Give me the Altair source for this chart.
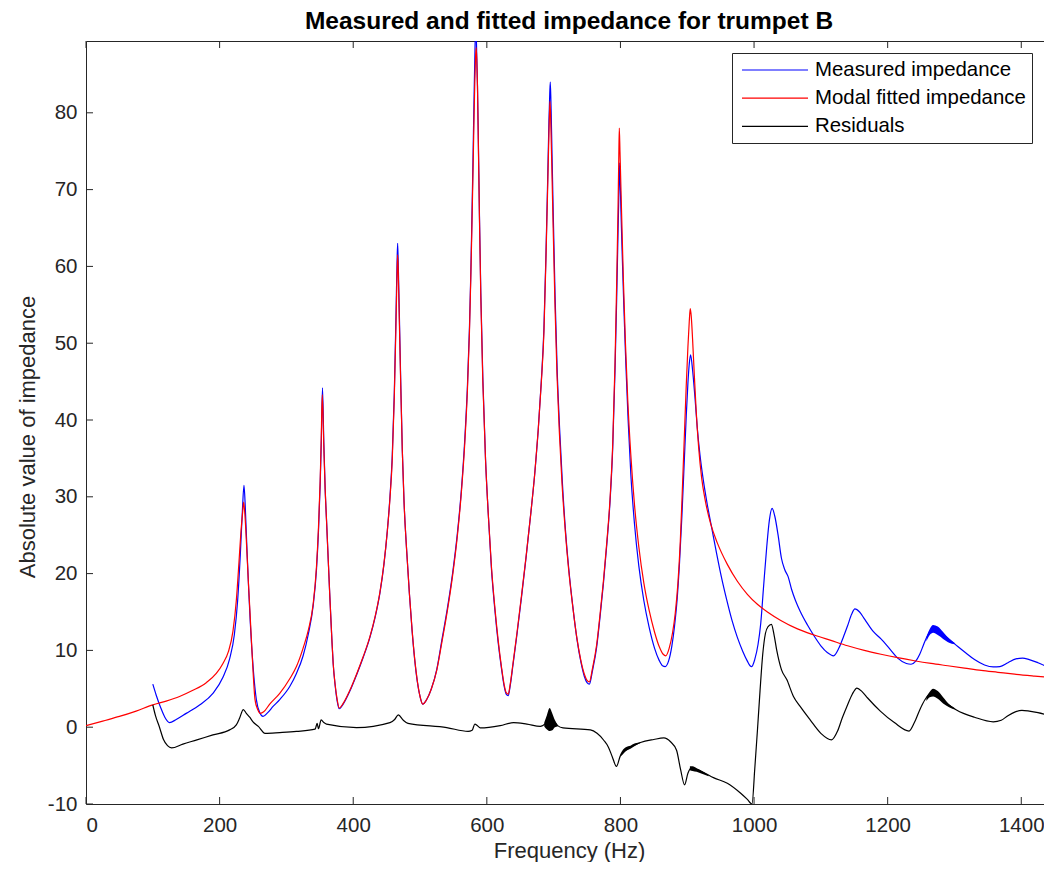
import altair as alt
import pandas as pd

FONT = "Liberation Sans"
SERIES = ["Measured impedance", "Modal fitted impedance", "Residuals"]
COLORS = ["#0000ff", "#ff0000", "#000000"]

X_TICKS = [0, 200, 400, 600, 800, 1000, 1200, 1400]
Y_TICKS = [-10, 0, 10, 20, 30, 40, 50, 60, 70, 80]

# (frequency Hz, |Z|)
MEASURED = [
    (100, 5.6), (105, 4.2), (112, 2.5), (118, 1.3), (125, 0.6), (135, 1.0), (150, 1.8), (170, 2.9),
    (190, 4.4), (205, 6.5), (215, 8.9), (222, 12.0), (227, 16.5), (231, 22.5), (234, 28.0),
    (236.5, 31.5), (238.5, 28.5), (241, 23.0), (243.5, 18.0), (246, 13.5), (250, 8.0), (255, 3.6),
    (260, 1.9), (265, 1.4), (272, 1.9), (280, 2.7), (290, 3.6), (305, 5.3), (315, 7.0), (325, 9.3),
    (333, 12.2), (340, 15.8), (345, 20.5), (348, 25.5), (350.5, 31.5), (352.3, 37.5), (354, 44.2),
    (356, 37.0), (358, 31.0), (360, 27.0), (363, 21.0), (365, 17.0), (368, 11.5), (370, 8.3),
    (373, 5.4), (376, 3.4), (379, 2.4), (385, 3.0), (395, 4.7), (405, 6.8), (415, 9.1), (425, 11.7),
    (433, 14.4), (440, 17.5), (446, 21.2), (451, 25.5), (455, 30.0), (458.5, 35.5), (461.5, 43.5),
    (464, 53.5), (465.6, 60.5), (466.5, 63.0), (467.5, 60.0), (469, 54.0), (471, 45.5), (473.5, 36.0),
    (476, 29.5), (480, 23.0), (484, 17.5), (488, 12.7), (492, 8.8), (496, 5.9), (500, 4.0), (504, 3.0),
    (510, 3.6), (517, 5.0), (525, 7.5), (533, 11.5), (541, 15.5), (549, 20.2), (556, 25.3), (562, 31.0),
    (567, 37.5), (571, 44.5), (574, 52.0), (576, 59.0), (577.5, 65.5), (579, 72.5), (580, 77.5),
    (581, 82.5), (582, 87.0), (583, 90.5), (584, 90.5), (585, 87.0), (586, 83.5), (587.3, 76.5),
    (589, 66.5), (591, 56.5), (594, 45.5), (598, 35.0), (602, 28.0), (607, 20.5), (612, 15.3),
    (617, 11.0), (622, 7.6), (626, 5.3), (629, 4.3), (632, 4.1), (635, 5.4), (639, 8.0), (645, 12.0),
    (652, 17.0), (659, 22.3), (666, 28.0), (672, 33.3), (677, 38.8), (681.5, 45.0), (685.5, 52.0),
    (688.5, 61.5), (691, 71.0), (693, 79.0), (694.2, 82.5), (695, 84.0), (696.2, 80.5), (697.6, 74.5),
    (699.5, 66.5), (702.2, 56.0), (705.3, 46.5), (709, 38.8), (713, 32.0), (718, 25.3), (723, 20.3),
    (729, 15.5), (735, 11.4), (741, 8.4), (746, 6.6), (750, 5.8), (753.5, 5.6), (758, 7.3),
    (764.5, 10.5), (769.5, 14.4), (774.5, 18.7), (779.5, 23.7), (784.5, 29.5), (788.5, 36.5),
    (791.9, 46.5), (794.3, 55.5), (796.3, 64.0), (797.8, 70.0), (798.8, 73.5), (799.8, 70.5),
    (801, 66.5), (802.5, 62.0), (805, 55.0), (808, 47.5), (811.5, 40.0), (815.5, 33.0), (821, 26.5),
    (827.5, 21.0), (835, 16.5), (843, 13.0), (851, 10.3), (858, 8.7), (863, 8.0), (867, 7.9),
    (872, 8.6), (877, 10.6), (881, 13.2), (885, 16.8), (888.5, 21.5), (892, 27.5), (895.5, 34.5),
    (898.5, 40.5), (901, 44.8), (903, 47.3), (905, 48.5), (908, 46.5), (911.5, 43.0), (915, 39.0),
    (919, 35.5), (924, 32.2), (930, 29.0), (937, 25.8), (944, 22.6), (951, 19.6), (959, 16.6),
    (967, 13.9), (975, 11.7), (983, 9.9), (990, 8.6), (994, 8.0), (996.5, 7.9), (1001, 8.8),
    (1006, 10.8), (1010, 13.5), (1014, 18.0), (1019, 23.5), (1023, 27.0), (1027, 28.5), (1031, 27.5),
    (1036, 25.0), (1041, 22.0), (1046, 20.5), (1051, 19.6), (1056, 18.0), (1062, 16.5), (1069, 15.1),
    (1080, 13.3), (1089, 12.0), (1100, 10.6), (1110, 9.7), (1119, 9.3), (1127, 10.3), (1134, 11.8),
    (1140, 13.2), (1146, 14.7), (1151, 15.4), (1158, 15.0), (1166, 14.0), (1178, 12.5), (1190, 11.5),
    (1204, 10.1), (1215, 9.0), (1228, 8.3), (1235, 8.2), (1242, 8.6), (1248, 9.5), (1254, 10.8),
    (1260, 12.0), (1266, 12.8), (1272, 12.9), (1280, 12.3), (1293, 11.4), (1305, 10.5), (1318, 9.6),
    (1330, 8.8), (1345, 8.1), (1358, 7.85), (1368, 7.9), (1380, 8.4), (1392, 8.9), (1402, 9.0),
    (1412, 8.8), (1425, 8.4), (1436, 8.0), (1446, 7.8),
]

FITTED = [
    (0, 0.2), (25, 0.8), (50, 1.4), (75, 2.1), (100, 2.9), (120, 3.4), (140, 4.0), (160, 4.8),
    (180, 5.8), (195, 7.0), (205, 8.3), (213, 9.8), (220, 12.5), (225, 16.5), (229, 21.5),
    (232, 25.5), (234.5, 28.0), (236, 29.3), (238, 27.5), (240.5, 23.5), (243, 19.0), (245.5, 14.9),
    (249, 9.0), (253, 3.6), (257, 2.3), (261, 1.8), (266, 2.0), (275, 3.0), (290, 4.4), (305, 6.3),
    (315, 7.9), (325, 10.3), (333, 12.7), (340, 16.0), (345, 20.9), (348, 26.0), (350.5, 32.0),
    (352, 37.0), (353.7, 43.3), (356, 36.5), (358, 31.0), (360, 27.0), (363, 21.0), (365, 17.0),
    (368, 11.5), (370, 8.3), (373, 5.5), (376, 3.6), (379, 2.5), (385, 3.1), (395, 4.8), (405, 6.9),
    (415, 9.2), (425, 11.8), (433, 14.5), (440, 17.6), (446, 21.3), (451, 25.5), (455, 29.8),
    (458.5, 35.0), (461.5, 43.0), (464, 52.5), (465.6, 59.0), (466.5, 61.5), (467.5, 59.0),
    (469, 53.0), (471, 45.0), (473.5, 36.0), (476, 29.5), (480, 23.0), (484, 17.5), (488, 12.8),
    (492, 8.9), (496, 6.0), (500, 4.0), (504, 3.0), (510, 3.6), (517, 5.0), (525, 7.4), (533, 11.2),
    (541, 15.2), (549, 19.9), (556, 25.0), (562, 30.7), (567, 37.0), (571, 44.0), (574, 51.5),
    (576, 58.5), (577.5, 64.5), (579, 71.0), (580, 75.5), (581, 80.0), (582, 84.0), (583, 87.0),
    (584, 88.5), (585, 87.0), (586, 83.5), (587.3, 76.0), (589, 66.0), (591, 56.0), (594, 45.0),
    (598, 35.0), (602, 28.0), (607, 20.8), (612, 15.6), (617, 11.3), (622, 7.8), (626, 5.5), (629, 4.5),
    (632, 4.3), (635, 5.6), (639, 8.2), (645, 12.2), (652, 17.2), (659, 22.4), (666, 28.0), (672, 33.3),
    (677, 38.8), (681.5, 44.8), (685.5, 51.5), (688.5, 61.0), (691, 70.0), (693, 77.5), (694, 80.5),
    (694.6, 81.5), (695.8, 78.5), (697.3, 73.0), (699.3, 65.0), (702, 55.0), (705, 46.0),
    (708.5, 38.5), (712.5, 31.8), (717.5, 25.5), (722.5, 20.5), (728.5, 15.8), (734.5, 11.8),
    (740.5, 8.8), (746, 6.9), (750, 6.1), (753.5, 5.9), (758, 7.6), (764.5, 10.8), (769.5, 14.7),
    (774.5, 19.0), (779.5, 24.0), (784.5, 29.8), (788.5, 37.0), (791.9, 47.5), (794.3, 57.5),
    (796.3, 67.0), (797.5, 74.0), (798.3, 78.0), (799.3, 75.0), (800.5, 71.0), (802, 66.0),
    (804.5, 58.0), (807.5, 50.0), (811, 42.5), (815.5, 35.5), (821, 29.0), (827.5, 23.5), (835, 18.8),
    (843, 15.2), (851, 12.4), (858, 10.5), (864, 9.5), (868, 9.3), (873, 10.3), (878, 12.3),
    (882, 14.8), (886, 18.7), (889.5, 24.0), (892.5, 30.5), (895.5, 37.5), (898.5, 44.5), (901, 49.5),
    (903, 52.8), (904.5, 54.5), (906, 53.5), (908, 50.5), (910.5, 46.0), (913.5, 41.0), (917, 36.5),
    (921.5, 32.5), (927, 29.5), (935, 26.5), (945, 24.0), (960, 21.2), (975, 19.0), (990, 17.3),
    (1005, 16.0), (1020, 15.0), (1040, 13.9), (1065, 12.8), (1090, 12.0), (1115, 11.3), (1140, 10.6),
    (1165, 10.0), (1190, 9.5), (1215, 9.05), (1240, 8.65), (1265, 8.3), (1290, 8.0), (1315, 7.7),
    (1340, 7.4), (1365, 7.15), (1390, 6.9), (1420, 6.65), (1446, 6.45),
]

RESIDUALS = [
    (100, 2.9), (104, 1.5), (110, 0.0), (116, -1.6), (122, -2.4), (128, -2.7), (145, -2.2),
    (166, -1.65), (190, -1.0), (215, -0.35), (225, 0.3), (230, 1.2), (235.5, 2.3), (240, 1.8),
    (245, 1.3), (250, 0.7), (258, 0.1), (268, -0.8), (290, -0.7), (315, -0.55), (343, -0.25),
    (346, 0.5), (348, -0.2), (352, 0.95), (356, 0.6), (360, 0.4), (405, -0.05), (455, 0.6), (462, 1.0),
    (467.5, 1.6), (475, 0.9), (482, 0.5), (540, -0.05), (572, -0.55), (578, -0.4), (582, 0.4),
    (586, 0.2), (590, -0.1), (620, 0.2), (640, 0.6), (660, 0.4), (680, 0.1), (688, 0.5), (694, 1.1),
    (700, 0.8), (706, 0.2), (714, -0.1), (755, -0.35), (765, -0.8), (775, -1.7), (782, -2.6),
    (788, -3.9), (794, -5.1), (800, -3.7), (810, -2.9), (830, -2.0), (850, -1.6), (865, -1.4),
    (875, -1.9), (884, -3.0), (890, -5.5), (896, -7.5), (901, -6.0), (906, -5.3), (920, -5.7),
    (940, -6.6), (960, -7.3), (980, -8.6), (990, -9.4), (997, -10.0), (1001, -5.5), (1005, -0.5),
    (1009, 4.8), (1013, 9.5), (1017, 12.2), (1021, 13.1), (1026, 13.4), (1030, 12.0), (1034, 10.0),
    (1041, 7.5), (1049, 6.2), (1059, 4.0), (1069, 2.7), (1084, 0.95), (1100, -0.8), (1116, -1.65),
    (1125, -0.5), (1132, 1.2), (1139, 2.7), (1147, 4.3), (1154, 5.1), (1162, 4.6), (1170, 3.8),
    (1189, 2.1), (1210, 0.6), (1232, -0.5), (1240, 0.6), (1248, 2.25), (1256, 3.6), (1262, 4.3),
    (1268.5, 4.6), (1278, 4.0), (1290, 3.0), (1303, 2.25), (1330, 1.3), (1358, 0.7), (1370, 0.9),
    (1380, 1.5), (1391, 2.0), (1401, 2.2), (1412, 2.1), (1425, 1.9), (1446, 1.4),
]

# thick, fast-oscillating stretches of the measured data: (frequency, low, high)
RESIDUAL_BANDS = {
    "r1": [(686, 0.1, 0.6), (690, -0.3, 1.6), (694, -0.5, 2.5), (698, -0.4, 1.8), (702, 0.0, 0.9), (706, 0.1, 0.3)],
    "r2": [(800, -3.8, -3.5), (804, -3.5, -2.9), (808, -3.1, -2.6), (815, -2.8, -2.4), (822, -2.4, -2.1),
           (830, -2.05, -1.95)],
    "r3": [(904, -5.6, -5.1), (908, -5.7, -5.1), (914, -5.8, -5.35), (922, -6.05, -5.7), (932, -6.4, -6.25)],
    "r4": [(1258, 3.4, 3.9), (1263, 3.9, 4.6), (1268, 4.0, 5.0), (1275, 3.7, 4.7), (1283, 3.1, 3.9),
           (1292, 2.6, 3.0), (1300, 2.3, 2.5)],
}
MEASURED_BANDS = {
    "m1": [(1258, 11.2, 11.7), (1263, 12.0, 12.8), (1268, 12.3, 13.3), (1275, 12.0, 13.1),
           (1283, 11.5, 12.4), (1292, 11.0, 11.5), (1300, 10.8, 11.0)],
}

W, H = 966, 763
X_DOMAIN = [0, 1446]
Y_DOMAIN = [-10, 89.35]
AX = "#262626"

xscale = alt.Scale(domain=X_DOMAIN, nice=False, zero=False)
yscale = alt.Scale(domain=Y_DOMAIN, nice=False, zero=False)
x_axis = alt.Axis(values=X_TICKS, title="Frequency (Hz)", ticks=False, domain=False, grid=False,
                  labelPadding=11, titleY=53, titleBaseline="alphabetic",
                  labelExpr="'' + datum.value")
y_axis = alt.Axis(values=Y_TICKS, title="Absolute value of impedance", ticks=False, domain=False,
                  grid=False, labelPadding=9, titlePadding=8, titleY=H / 2 + 14,
                  labelExpr="'' + datum.value")


def X(field):
    return alt.X(field, type="quantitative", scale=xscale, axis=x_axis)


def Y(field):
    return alt.Y(field, type="quantitative", scale=yscale, axis=y_axis)


color_enc = alt.Color(
    "series:N",
    scale=alt.Scale(domain=SERIES, range=COLORS),
    legend=alt.Legend(
        orient="none", legendX=646, legendY=12, title=None,
        symbolType="M-1,0H5.6", symbolSize=400, symbolStrokeWidth=1.2, symbolOffset=3,
        labelFont=FONT, labelFontSize=20.4, labelColor="#000000", labelOffset=52, labelLimit=0,
        rowPadding=6.2, padding=6, strokeColor=AX, fillColor="#ffffff", cornerRadius=0,
    ),
)


def line(points, name):
    df = pd.DataFrame({"f": [p[0] for p in points], "z": [p[1] for p in points], "series": name})
    return alt.Chart(df).mark_line(interpolate="monotone", strokeWidth=1.2, clip=True).encode(
        x=X("f"), y=Y("z"), color=color_enc)


def bands(groups, colour):
    rows = [(k, f, lo, hi) for k, pts in groups.items() for (f, lo, hi) in pts]
    df = pd.DataFrame(rows, columns=["band", "f", "lo", "hi"])
    return alt.Chart(df).mark_area(color=colour, interpolate="monotone", clip=True).encode(
        x=X("f"), y=Y("lo"), y2="hi:Q", detail="band:N")


xt = pd.DataFrame({"f": X_TICKS})
yt = pd.DataFrame({"z": Y_TICKS})
tick_style = dict(color=AX, strokeWidth=1)

xb = alt.Chart(xt).mark_rule(**tick_style).encode(x=X("f"), y=alt.value(H), y2=alt.value(H - 7))
xtop = alt.Chart(xt).mark_rule(**tick_style).encode(x=X("f"), y=alt.value(0), y2=alt.value(7))
yl = alt.Chart(yt).mark_rule(**tick_style).encode(y=Y("z"), x=alt.value(0), x2=alt.value(7))
yr = alt.Chart(yt).mark_rule(**tick_style).encode(y=Y("z"), x=alt.value(W - 7), x2=alt.value(W))

chart = alt.layer(
    line(MEASURED, SERIES[0]),
    bands(MEASURED_BANDS, COLORS[0]),
    line(FITTED, SERIES[1]),
    line(RESIDUALS, SERIES[2]),
    bands(RESIDUAL_BANDS, COLORS[2]),
    xb, xtop, yl, yr,
).properties(
    width=W, height=H,
    title=alt.TitleParams(
        text="Measured and fitted impedance for trumpet B", font=FONT, fontSize=24.5,
        fontWeight="bold", color="#000000", anchor="middle", offset=6,
    ),
    autosize=alt.AutoSizeParams(type="none"),
    padding={"left": 78, "top": 33, "right": -8, "bottom": 58},
).configure_view(
    stroke=AX, strokeWidth=1
).configure_axis(
    labelFont=FONT, labelFontSize=20.5, labelColor=AX,
    titleFont=FONT, titleFontSize=22, titleColor=AX, titleFontWeight="normal",
)

chart.save("out.html", embed_options={"renderer": "svg", "actions": False})
